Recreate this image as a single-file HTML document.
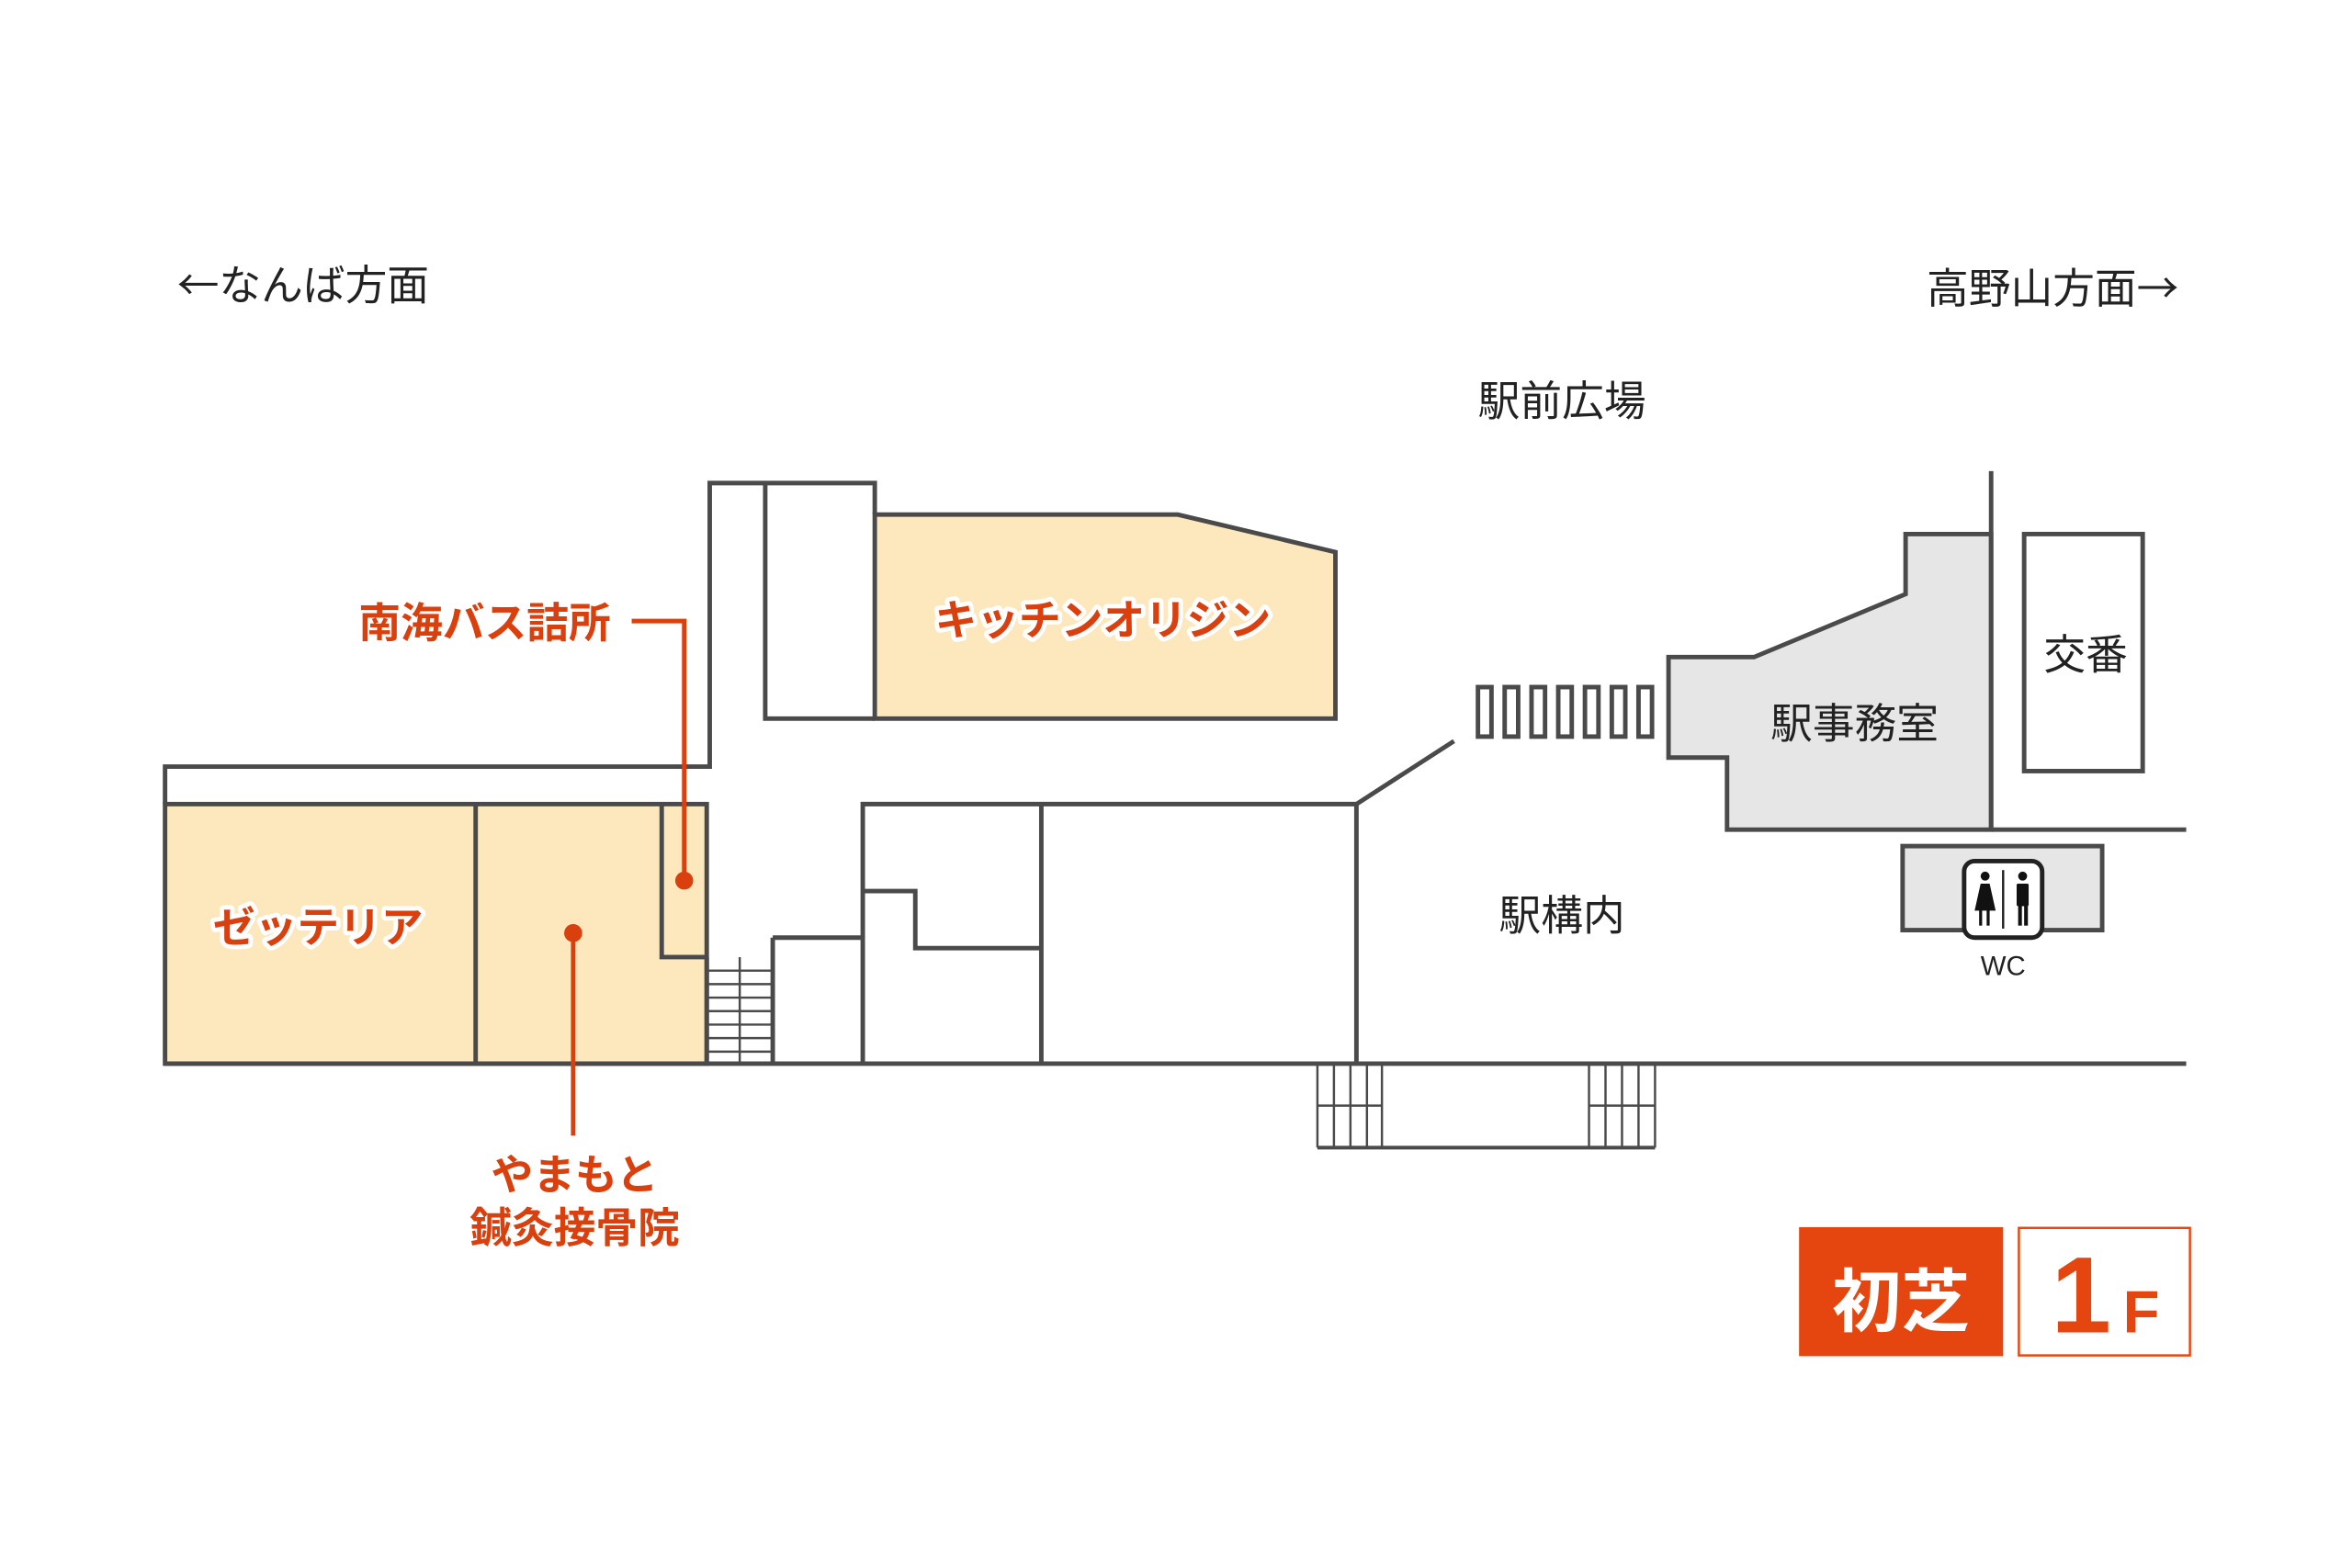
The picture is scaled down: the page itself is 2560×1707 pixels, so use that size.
<!DOCTYPE html>
<html><head><meta charset="utf-8"><style>
html,body{margin:0;padding:0;background:#fff;}
svg{display:block;}
text{font-family:"Liberation Sans","Noto Sans CJK JP",sans-serif;}
.cjk{font-family:"Noto Sans CJK JP",sans-serif;}
</style></head><body>
<svg width="2560" height="1707" viewBox="0 0 1567.5 1045.2" preserveAspectRatio="none" xmlns="http://www.w3.org/2000/svg">
<g stroke="#4a4a4a" stroke-width="3" fill="none" stroke-linejoin="miter">
  <rect x="110" y="536" width="361" height="173" fill="#fde8be"/>
  <line x1="317" y1="536" x2="317" y2="709"/>
  <polyline points="441,536 441,638 471,638"/>
  <polyline points="110,536 110,511 473,511 473,322 583,322 583,343"/>
  <polyline points="510,322 510,479 583,479"/>
  <polygon points="583,343 785,343 890,368 890,479 583,479" fill="#fde8be"/>
  <line x1="471" y1="638" x2="471" y2="709"/>
  <line x1="515" y1="625" x2="515" y2="709"/>
  <g stroke-width="1.5">
    <line x1="493" y1="638" x2="493" y2="709"/>
    <line x1="471" y1="647" x2="515" y2="647"/>
    <line x1="471" y1="656" x2="515" y2="656"/>
    <line x1="471" y1="665" x2="515" y2="665"/>
    <line x1="471" y1="674" x2="515" y2="674"/>
    <line x1="471" y1="683" x2="515" y2="683"/>
    <line x1="471" y1="692" x2="515" y2="692"/>
    <line x1="471" y1="701" x2="515" y2="701"/>
  </g>
  <polyline points="515,625 575,625"/>
  <polyline points="575,709 575,536 904,536 904,709"/>
  <line x1="694" y1="536" x2="694" y2="709"/>
  <polyline points="575,594 610,594 610,632 694,632"/>
  <line x1="904" y1="536" x2="969" y2="494"/>
  <rect x="985" y="458" width="9" height="33"/>
  <rect x="1002.8" y="458" width="9" height="33"/>
  <rect x="1020.7" y="458" width="9" height="33"/>
  <rect x="1038.5" y="458" width="9" height="33"/>
  <rect x="1056.3" y="458" width="9" height="33"/>
  <rect x="1074.2" y="458" width="9" height="33"/>
  <rect x="1092" y="458" width="9" height="33"/>
  <polygon points="1112,438 1169,438 1270,396 1270,356 1327,356 1327,553 1151,553 1151,505 1112,505" fill="#e6e6e6"/>
  <line x1="1327" y1="314" x2="1327" y2="553"/>
  <line x1="1327" y1="553" x2="1457" y2="553"/>
  <rect x="1349" y="356" width="79" height="158"/>
  <rect x="1268" y="564" width="133" height="56" fill="#e6e6e6"/>
  <line x1="110" y1="709" x2="1457" y2="709"/>
  <line x1="878" y1="765" x2="1103" y2="765" stroke-width="2.5"/>
  <g stroke-width="1.5">
    <line x1="878" y1="709" x2="878" y2="765"/><line x1="889" y1="709" x2="889" y2="765"/>
    <line x1="900" y1="709" x2="900" y2="765"/><line x1="911" y1="709" x2="911" y2="765"/>
    <line x1="921" y1="709" x2="921" y2="765"/><line x1="878" y1="737" x2="921" y2="737"/>
    <line x1="1059" y1="709" x2="1059" y2="765"/><line x1="1070" y1="709" x2="1070" y2="765"/>
    <line x1="1081" y1="709" x2="1081" y2="765"/><line x1="1092" y1="709" x2="1092" y2="765"/>
    <line x1="1103" y1="709" x2="1103" y2="765"/><line x1="1059" y1="737" x2="1103" y2="737"/>
  </g>
</g>
<rect x="1309" y="574" width="52" height="51" rx="7" fill="#fff" stroke="#222" stroke-width="3"/>
<line x1="1335" y1="580" x2="1335" y2="619" stroke="#222" stroke-width="1.5"/>
<circle cx="1323" cy="584" r="3" fill="#111"/>
<polygon points="1320,589 1326,589 1330,607 1316,607" fill="#111"/>
<rect x="1319" y="606" width="2" height="11" fill="#111"/><rect x="1324" y="606" width="2" height="11" fill="#111"/>
<circle cx="1348" cy="584" r="3" fill="#111"/>
<rect x="1344" y="589" width="8" height="15" rx="1" fill="#111"/>
<rect x="1345" y="603" width="2.5" height="14" fill="#111"/><rect x="1349" y="603" width="2.5" height="14" fill="#111"/>
<text x="1335" y="650" font-size="18" text-anchor="middle" fill="#222">WC</text>
<g font-size="28" fill="#222">
<text x="118" y="200" class="cjk">←なんば方面</text>
<text x="1452" y="202" text-anchor="end" class="cjk">高野山方面→</text>
<text x="1041" y="277" text-anchor="middle">駅前広場</text>
<text x="1041" y="620" text-anchor="middle">駅構内</text>
<text x="1236" y="492" text-anchor="middle">駅事務室</text>
<text x="1390" y="446" text-anchor="middle">交番</text>
</g>
<g stroke="#d9400e" stroke-width="3" fill="none">
<polyline points="421,414 456,414 456,587"/>
<line x1="382" y1="622" x2="382" y2="757"/>
</g>
<circle cx="456" cy="587" r="6" fill="#d9400e"/>
<circle cx="382" cy="622" r="6" fill="#d9400e"/>
<g font-size="28" font-weight="bold" fill="#d9400e" text-anchor="middle">
<text x="323" y="425">南海バス詰所</text>
<text x="383" y="793">やまもと</text>
<text x="383" y="828">鍼灸接骨院</text>
</g>
<g font-size="28" font-weight="bold" text-anchor="middle" stroke="#fff" stroke-width="6" stroke-linejoin="round" paint-order="stroke" fill="#d9400e">
<text x="212" y="628">ゼッテリア</text>
<text x="735" y="423">キッチンオリジン</text>
</g>
<rect x="1199" y="818" width="136" height="86" fill="#e5460f"/>
<text x="1267" y="884" font-size="46" font-weight="bold" fill="#fff" text-anchor="middle">初芝</text>
<rect x="1345.5" y="818.5" width="114" height="85" fill="#fff" stroke="#e5460f" stroke-width="1.5"/>
<text x="1387" y="888" font-size="72" font-weight="bold" fill="#e5460f" text-anchor="middle">1</text>
<text x="1427" y="888" font-size="40" font-weight="bold" fill="#e5460f" text-anchor="middle">F</text>
</svg>
</body></html>
